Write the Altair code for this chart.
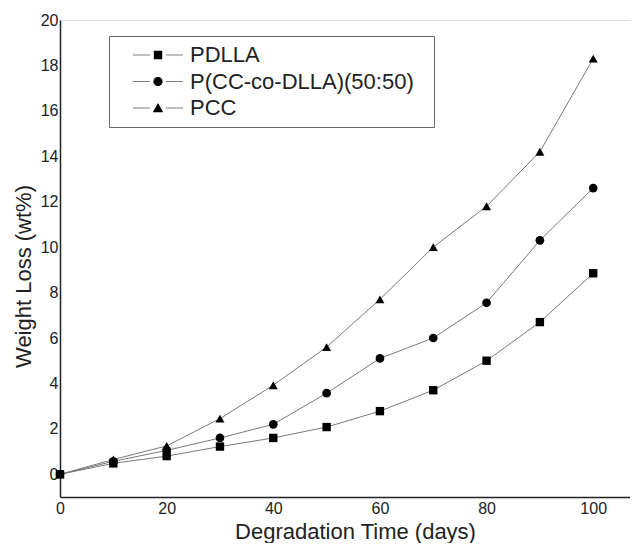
import altair as alt
import pandas as pd

days = [0, 10, 20, 30, 40, 50, 60, 70, 80, 90, 100]
series_names = ["PDLLA", "P(CC-co-DLLA)(50:50)", "PCC"]
pdlla = [0, 0.48, 0.8, 1.22, 1.6, 2.08, 2.78, 3.7, 5.0, 6.7, 8.85]
copoly = [0, 0.57, 1.05, 1.6, 2.2, 3.57, 5.1, 6.0, 7.55, 10.3, 12.6]
pcc = [0, 0.65, 1.25, 2.45, 3.92, 5.6, 7.7, 10.0, 11.8, 14.2, 18.3]

marker_shapes = ["square", "circle", "triangle-up"]
marker_sizes = [70, 81, 115]

# legend glyph: thin line - marker - thin line (drawn as filled shapes)
_seg = "M-2.5,-0.03H-0.8V0.03H-2.5ZM0.8,-0.03H2.5V0.03H0.8Z"
_pad = "M26.8,0"
legend_shapes = [
    _seg + "M-0.42,-0.42H0.42V0.42H-0.42Z" + _pad,
    _seg + "M-0.46,0A0.46,0.46,0,1,0,0.46,0A0.46,0.46,0,1,0,-0.46,0Z" + _pad,
    _seg + "M0,-0.5L0.52,0.42L-0.52,0.42Z" + _pad,
]

rows = []
for name, vals in zip(series_names, [pdlla, copoly, pcc]):
    for d, v in zip(days, vals):
        rows.append({"day": d, "loss": v, "series": name})
df = pd.DataFrame(rows)

FONT = "Liberation Sans"

x = alt.X(
    "day:Q",
    scale=alt.Scale(domain=[0, 106.9], nice=False, zero=False),
    axis=alt.Axis(
        values=[0, 20, 40, 60, 80, 100], ticks=False, grid=False,
        domainColor="#222", domainWidth=1.5, labelFontSize=16, labelColor="#222",
        labelPadding=3, labelFlush=False, title="Degradation Time (days)",
        titleFontSize=22, titleFontWeight="normal", titleColor="#222",
        titleX=295, titleY=41, titleBaseline="alphabetic", titleAlign="center",
    ),
)
y = alt.Y(
    "loss:Q",
    scale=alt.Scale(domain=[-1, 20], nice=False, zero=False),
    axis=alt.Axis(
        values=list(range(0, 21, 2)), ticks=False, grid=False,
        domainColor="#222", domainWidth=1.5, labelFontSize=16, labelColor="#222",
        labelPadding=2, labelFlush=False, title="Weight Loss (wt%)",
        titleFontSize=22, titleFontWeight="normal", titleColor="#222",
        titleX=-37, titleY=256, titleAngle=270, titleAlign="center",
        titleBaseline="middle",
    ),
)

base = alt.Chart(df)

lines = base.mark_line(color="#7a7a7a", strokeWidth=1).encode(x=x, y=y, detail="series:N")

points = base.mark_point(filled=True, color="black", opacity=1).encode(
    x=x, y=y,
    shape=alt.Shape("series:N", scale=alt.Scale(domain=series_names, range=marker_shapes), legend=None),
    size=alt.Size("series:N", scale=alt.Scale(domain=series_names, range=marker_sizes), legend=None),
)

legend_pts = base.mark_point(filled=True, color="black", opacity=0, size=400).encode(
    x=x, y=y,
    shape=alt.Shape(
        "series:N",
        scale=alt.Scale(domain=series_names, range=legend_shapes),
        legend=alt.Legend(
            title=None, orient="none", legendX=49, legendY=16, padding=8,
            strokeColor="#666", fillColor="white", labelFontSize=22, labelFont=FONT,
            labelColor="#222", symbolSize=400, symbolOpacity=1, symbolFillColor="black",
            symbolStrokeWidth=0, rowPadding=4.5,
            symbolOffset=30, labelOffset=21, labelLimit=400,
        ),
    ),
)

chart = (
    alt.layer(lines, points, legend_pts)
    .resolve_scale(shape="independent", size="independent")
    .properties(
        width=570, height=477,
        autosize=alt.AutoSizeParams(type="none"),
        padding={"left": 52, "top": 12, "right": 0, "bottom": 46},
    )
    .configure_view(stroke=None)
    .configure(font=FONT)
)

chart.save("out.html", embed_options={"renderer": "svg", "actions": False})
